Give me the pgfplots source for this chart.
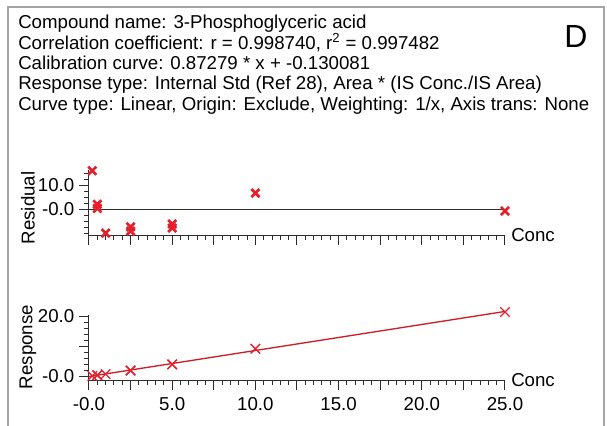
\documentclass[border=0pt]{standalone}
\usepackage{fontspec}
\setmainfont{Liberation Sans}
\usepackage{pgfplots}
\pgfplotsset{compat=1.18}

\definecolor{mk}{RGB}{228,32,44}
\definecolor{fitred}{RGB}{205,30,40}
\definecolor{framegray}{RGB}{165,165,165}
\definecolor{ax}{RGB}{45,45,45}

\pgfplotsset{
  calib/.style={
    scale only axis,
    width=312pt, height=48.75pt,
    xmin=0, xmax=25,
    axis x line*=bottom, axis y line*=left,
    axis line style={ax, line width=0.75pt},
    tick style={ax, line width=0.75pt},
    tick align=outside,
    major tick length=7.5pt, minor tick length=3.75pt,
    xtick={0,2.5,...,25}, minor x tick num=4,
    tick label style={font=\fontsize{14}{16}\selectfont},
    xticklabel style={yshift=-2pt},
    /pgf/number format/assume math mode=true,
    clip=false,
    xlabel={Conc},
    xlabel style={at={(axis description cs:1,0)}, anchor=west,
      font=\fontsize{14}{16}\selectfont, inner sep=0pt, xshift=4.5pt},
  }
}

\begin{document}
\begin{tikzpicture}
\useasboundingbox (0,0) rectangle (455.25pt,-318.75pt);
\draw[framegray, line width=1.5pt] (6pt,-330pt) -- (6pt,-5.25pt) -- (453pt,-5.25pt) -- (453pt,-330pt);

% header text
\begin{scope}[every node/.style={anchor=base west, inner sep=0pt, font=\fontsize{14}{16}\selectfont}]
\node at (13.5pt,-21.5pt) {Compound name: 3-Phosphoglyceric acid};
\node at (13.5pt,-36.75pt) {Correlation coefficient: r = 0.998740, r\textsuperscript{2} = 0.997482};
\node at (13.5pt,-52pt) {Calibration curve: 0.87279 * x + -0.130081};
\node at (13.5pt,-67.25pt) {Response type: Internal Std (Ref 28), Area * (IS Conc./IS Area)};
\node at (13.5pt,-82.5pt) {Curve type: Linear, Origin: Exclude, Weighting: 1/x, Axis trans: None};
\end{scope}
\node[anchor=base, inner sep=0pt, font=\fontsize{24}{28}\selectfont] at (432pt,-35.25pt) {D};

% residual panel
\begin{axis}[calib,
  at={(66.75pt,-176.25pt)}, anchor=south west,
  ymin=-10.8, ymax=16.3,
  ytick={0,10}, yticklabels={-0.0,10.0},
  minor ytick={-10,-7.5,-5,-2.5,2.5,5,7.5,12.5,15},
  xticklabels={},
]
\addplot[ax, line width=0.9pt] coordinates {(0,0) (25.1,0)};
\addplot[only marks, mark=x, mark size=4.3pt, mk, line width=2pt] coordinates {
  (0.2,16.0) (0.5,2.0) (0.5,0.3) (1.0,-10.0) (2.5,-7.4) (2.5,-9.2)
  (5,-6.2) (5,-7.9) (10,6.7) (25,-0.8)
};
\end{axis}
\node[rotate=90, inner sep=0pt, font=\fontsize{14}{16}\selectfont] at (21pt,-156pt) {Residual};

% response panel
\begin{axis}[calib,
  at={(66.75pt,-285pt)}, anchor=south west,
  ymin=-1.3, ymax=20.5,
  ytick={0,10,20}, yticklabels={-0.0,,20.0},
  minor ytick={2,4,6,8,12,14,16,18},
  xticklabels={-0.0,,5.0,,10.0,,15.0,,20.0,,25.0},
]
\addplot[fitred, line width=1pt] coordinates {(0,-0.130081) (25,21.689669)};
\addplot[only marks, mark=x, mark size=5pt, mk, line width=1pt] coordinates {
  (0.2,0.052) (0.5,0.312) (0.5,0.307) (1.0,0.668) (2.5,1.900) (2.5,1.863)
  (5,3.971) (5,3.900) (10,9.174) (25,21.52)
};
\end{axis}
\node[rotate=90, inner sep=0pt, font=\fontsize{14}{16}\selectfont] at (21pt,-260.25pt) {Response};
\end{tikzpicture}
\end{document}
